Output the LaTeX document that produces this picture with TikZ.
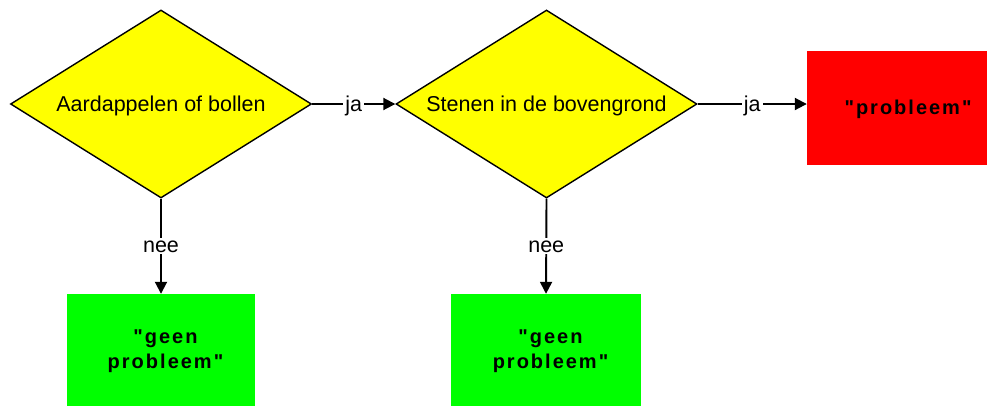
\documentclass[tikz,border=0pt]{standalone}
\usepackage{fontspec}
\setmainfont{Liberation Sans}
\newfontfamily\spacedbold{Liberation Sans}[LetterSpace=10]
\usetikzlibrary{shapes.geometric,arrows.meta}
\definecolor{qyellow}{HTML}{FFFF00}
\definecolor{qred}{HTML}{FF0000}
\definecolor{qgreen}{HTML}{00FF00}
\newcommand{\lead}{\hspace*{9pt}}
\begin{document}
\begin{tikzpicture}[x=1pt,y=-1pt,
  question/.style={diamond,draw=black,line width=1.4pt,fill=qyellow,
    minimum width=301pt,minimum height=188pt,inner sep=0pt,aspect=1.6,
    text depth=0pt,font=\fontsize{21.5}{25}\selectfont},
  outcome/.style={rectangle,draw=none,minimum height=114pt,inner sep=0pt,
    align=center,font=\spacedbold\bfseries\fontsize{20}{25}\selectfont},
  flow/.style={line width=1.9pt,-{Triangle[length=12pt,width=12pt]}},
  answer/.style={fill=white,inner sep=2pt,text depth=0pt,
    font=\fontsize{21.5}{25}\selectfont}
]
\useasboundingbox (0,0) rectangle (987,405);
% decision diamonds
\node[question] (d1) at (161,104) {Aardappelen of bollen};
\node[question] (d2) at (546.5,104) {Stenen in de bovengrond};
% outcomes
\node[outcome,fill=qred,minimum width=202pt,text depth=0pt] (p) at (908,107.5) {"probleem"};
\node[outcome,fill=qgreen,minimum width=188pt] (g1) at (161,351) {\lead"geen\\\lead probleem"};
\node[outcome,fill=qgreen,minimum width=190pt] (g2) at (546,351) {\lead"geen\\\lead probleem"};
% connectors
\draw[flow] (d1.east) -- node[answer] {ja} (d2.west);
\draw[flow] (d2.east) -- node[answer] {ja} (d2.east -| p.west);
\draw[flow] (d1.south) -- node[answer] {nee} (g1.north);
\draw[flow] (d2.south) -- node[answer] {nee} (g2.north);
\end{tikzpicture}
\end{document}
